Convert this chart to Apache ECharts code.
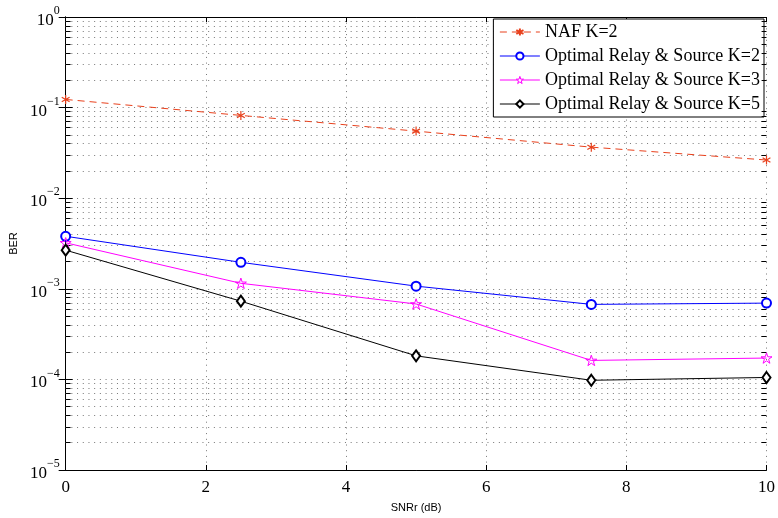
<!DOCTYPE html>
<html><head><meta charset="utf-8">
<script src="https://cdn.jsdelivr.net/npm/echarts@6/dist/echarts.min.js"></script>
<style>html,body{margin:0;padding:0;background:#fff}#c{width:778px;height:518px}</style>
</head><body><div id="c"></div>
<script>
const snr = [0, 2.5, 5, 7.5, 10];
const nafK2 = [0.123, 0.082, 0.055, 0.0366, 0.0264];
const optK2 = [0.0038, 0.00196, 0.00107, 0.000673, 0.000695];
const optK3 = [0.00322, 0.00115, 0.00068, 0.000162, 0.000172];
const optK5 = [0.00267, 0.00073, 0.000182, 0.0000978, 0.000105];
const seriesNames = ['NAF K=2', 'Optimal Relay & Source K=2', 'Optimal Relay & Source K=3', 'Optimal Relay & Source K=5'];

const pairs = v => snr.map((x, i) => [x, v[i]]);
const minorVals = [];
for (let e = -5; e < 0; e++) for (let m = 2; m <= 9; m++) minorVals.push(+(m * Math.pow(10, e)).toPrecision(3));

const dot = {type: [1, 4.7], color: '#777', width: 1};
const tickLen = 0.07;
const minorGrid = minorVals.map(v => [{coord: [0, v]}, {coord: [10, v]}]);
const minorTicks = [];
minorVals.forEach(v => {
  minorTicks.push([{coord: [0, v]}, {coord: [tickLen, v]}]);
  minorTicks.push([{coord: [10 - tickLen, v]}, {coord: [10, v]}]);
});

const star = 'path://M0,-1L0.2245,-0.309L0.951,-0.309L0.363,0.118L0.588,0.809L0,0.382L-0.588,0.809L-0.363,0.118L-0.951,-0.309L-0.2245,-0.309Z';
const aster = 'path://M0,-1L0,1M-0.87,-0.5L0.87,0.5M-0.87,0.5L0.87,-0.5';

const serif = 'Liberation Serif';
const yFmt = v => {
  const e = Math.round(Math.log10(v));
  return '{b|10}{s|' + (e === 0 ? '0' : '\u2212' + (-e)) + '}';
};
const yRich = {
  b: {fontFamily: serif, fontSize: 17, color: '#000', verticalAlign: 'bottom', lineHeight: 24},
  s: {fontFamily: serif, fontSize: 12, color: '#000', verticalAlign: 'top', lineHeight: 24}
};

const chart = echarts.init(document.getElementById('c'), null, {renderer: 'canvas'});
chart.setOption({
  animation: false,
  backgroundColor: '#fff',
  grid: {left: 65, right: 9, top: 17, bottom: 45, containLabel: false},
  legend: {
    orient: 'vertical', right: 14, top: 19,
    itemWidth: 40, itemHeight: 9, itemGap: 6,
    borderColor: '#000', borderWidth: 1, padding: [4, 4, 4, 6],
    backgroundColor: '#fff',
    lineStyle: {width: 1},
    textStyle: {fontFamily: serif, fontSize: 18, color: '#000'},
    data: [
      {name: seriesNames[0]},
      {name: seriesNames[1]},
      {name: seriesNames[2], itemStyle: {color: '#fff', borderColor: '#ff00ff', borderWidth: 1}},
      {name: seriesNames[3]}
    ]
  },
  xAxis: [{
    type: 'value', min: 0, max: 10, interval: 2, position: 'bottom',
    name: 'SNRr (dB)', nameLocation: 'middle', nameGap: 32,
    nameTextStyle: {fontFamily: 'Liberation Sans', fontSize: 11, color: '#000'},
    axisLine: {lineStyle: {color: '#000', width: 1}},
    axisTick: {inside: true, length: 5, lineStyle: {color: '#000'}},
    axisLabel: {fontFamily: serif, fontSize: 17, color: '#000', margin: 9},
    splitLine: {show: true, lineStyle: dot}
  }, {
    type: 'value', min: 0, max: 10, interval: 2, position: 'top',
    axisLine: {show: true, lineStyle: {color: '#000', width: 1}},
    axisTick: {inside: true, length: 5, lineStyle: {color: '#000'}},
    axisLabel: {show: false}, splitLine: {show: false}
  }],
  yAxis: [{
    type: 'log', logBase: 10, min: 1e-5, max: 1, position: 'left',
    name: 'BER', nameLocation: 'middle', nameGap: 40, nameRotate: 90,
    nameTextStyle: {fontFamily: 'Liberation Sans', fontSize: 11, color: '#000'},
    axisLine: {show: true, lineStyle: {color: '#000', width: 1}},
    axisTick: {show: true, inside: true, length: 7, lineStyle: {color: '#000'}},
    axisLabel: {formatter: yFmt, rich: yRich, margin: 6},
    splitLine: {show: true, lineStyle: dot}
  }, {
    type: 'log', logBase: 10, min: 1e-5, max: 1, position: 'right',
    axisLine: {show: true, lineStyle: {color: '#000', width: 1}},
    axisTick: {show: true, inside: true, length: 7, lineStyle: {color: '#000'}},
    axisLabel: {show: false}, splitLine: {show: false}
  }],
  series: [{
    name: seriesNames[0], type: 'line', data: pairs(nafK2),
    symbol: aster, symbolSize: 9, symbolKeepAspect: true,
    itemStyle: {color: '#e8401c', borderColor: '#e8401c', borderWidth: 1.2},
    lineStyle: {color: '#e8401c', width: 1, type: [7, 5]},
    z: 5,
    markLine: {
      silent: true, symbol: 'none', label: {show: false},
      lineStyle: dot, data: minorGrid, z: 1
    }
  }, {
    name: seriesNames[1], type: 'line', data: pairs(optK2),
    symbol: 'emptyCircle', symbolSize: 9,
    itemStyle: {color: '#0000ff', borderColor: '#0000ff', borderWidth: 1},
    lineStyle: {color: '#0000ff', width: 1}, z: 5,
    markLine: {
      silent: true, symbol: 'none', label: {show: false},
      lineStyle: {type: 'solid', color: '#000', width: 1}, data: minorTicks
    }
  }, {
    name: seriesNames[2], type: 'line', data: pairs(optK3),
    symbol: star, symbolSize: 11, symbolKeepAspect: true,
    itemStyle: {color: 'rgba(0,0,0,0)', borderColor: '#ff00ff', borderWidth: 1},
    lineStyle: {color: '#ff00ff', width: 1}, z: 5
  }, {
    name: seriesNames[3], type: 'line', data: pairs(optK5),
    symbol: 'emptyDiamond', symbolSize: [8, 11],
    itemStyle: {color: '#000', borderColor: '#000', borderWidth: 1},
    lineStyle: {color: '#000', width: 1}, z: 5
  }]
});
</script></body></html>
